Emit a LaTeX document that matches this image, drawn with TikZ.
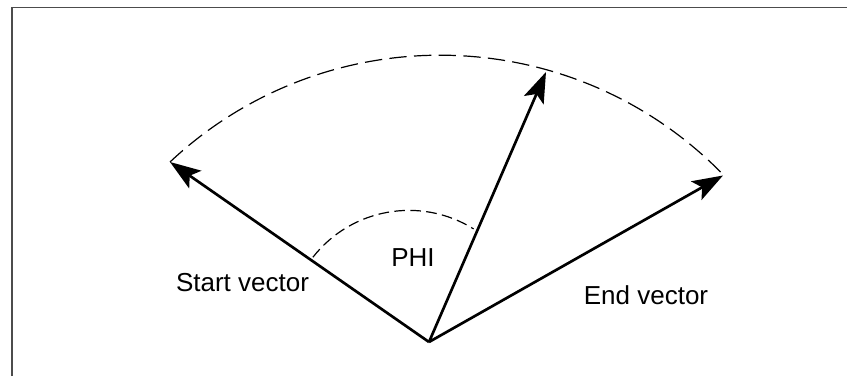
\documentclass[tikz,border=0pt]{standalone}
\usepackage{fontspec}
\setmainfont{Liberation Sans}
\usepackage{tikz}
\usetikzlibrary{positioning, arrows.meta}

\begin{document}
\begin{tikzpicture}[x=0.75pt, y=0.75pt,
    vec/.style={line width=2pt, -{Stealth[length=23pt, width=16pt, inset=5pt]}},
    bigarc/.style={line width=0.9pt, dash pattern=on 13pt off 5.5pt},
    phiarc/.style={line width=0.9pt, dash pattern=on 8pt off 4pt},
    lbl/.style={font=\fontsize{19.5}{23}\selectfont, inner sep=0pt, anchor=base}]
    \useasboundingbox (0,0) rectangle (847,376);

    % Frame (top and left edge only)
    \draw[black!70, line width=1.1pt] (12,0) -- (12,368.5) -- (847,368.5);

    % Origin and vector tips
    \coordinate (O) at (429,34);
    \coordinate (S) at (170,214);
    \coordinate (M) at (546,304);
    \coordinate (E) at (723,200.5);

    % Outer dashed arc
    \draw[bigarc] (S) arc[start angle=133.15, end angle=44.13, radius=395];

    % Angle arc
    \draw[phiarc] (409,43.6) ++(142:122) arc[start angle=142, end angle=58, radius=122];

    % Vectors
    \draw[vec] (O) -- (S);
    \draw[vec] (O) -- (M);
    \draw[vec] (O) -- (E);

    % Labels
    \node[lbl] (start) at (242.5,84.3) {Start vector};
    \node[lbl] (phi) at (413,110) {PHI};
    \node[lbl] (end) at (646,72) {End vector};
\end{tikzpicture}
\end{document}
